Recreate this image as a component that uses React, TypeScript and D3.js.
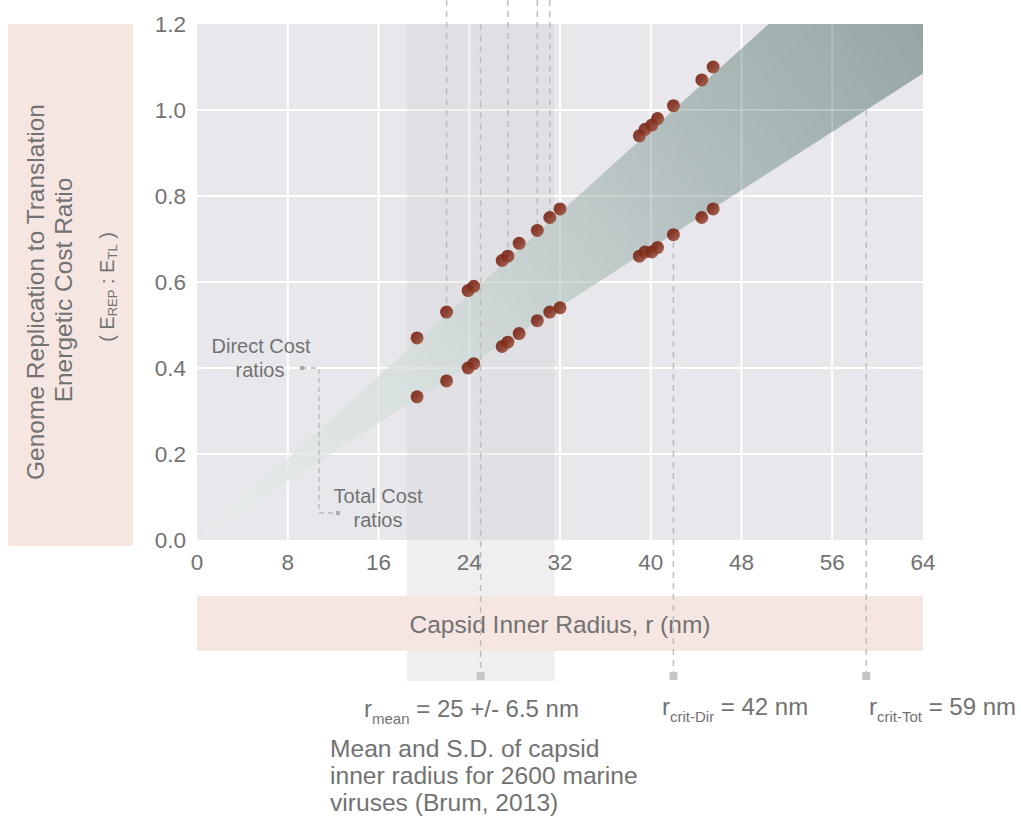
import React from 'react';
import * as d3 from 'd3';

// radius of each virus (nm) and the two cost ratios
const radii = [19.4, 22.0, 23.9, 24.4, 26.9, 27.4, 28.4, 30.0, 31.1, 32.0, 39.0, 39.5, 40.1, 40.6, 42.0, 44.5, 45.5];
const directRatios = [0.47, 0.53, 0.58, 0.59, 0.65, 0.66, 0.69, 0.72, 0.75, 0.77, 0.94, 0.955, 0.965, 0.98, 1.01, 1.07, 1.10];
const totalRatios = [0.333, 0.37, 0.40, 0.41, 0.45, 0.46, 0.48, 0.51, 0.53, 0.54, 0.66, 0.67, 0.67, 0.68, 0.71, 0.75, 0.77];

// the direct / total cost band (edges of the cone)
const bandR = [0, 64];
const bandUpper = [0, 1.524];
const bandLower = [0, 1.085];

// points that have a guide line going up to the top
const guideIdx = [1, 5, 7, 8];

const xTicks = [0, 8, 16, 24, 32, 40, 48, 56, 64];
const yTicks = [0, 0.2, 0.4, 0.6, 0.8, 1.0, 1.2];

const rMean = 25;
const rSD = 6.5;
const rCritDir = 42;
const rCritTot = 59;

const FONT = '"Liberation Sans", Arial, Helvetica, sans-serif';
const TXT = '#727272';

export default function App() {
  const x = d3.scaleLinear().domain([0, 64]).range([197, 923]);
  const y = d3.scaleLinear().domain([0, 1.2]).range([540, 24]);
  const [x0, x1] = x.range();
  const [yb, yt] = y.range();

  const bandData = bandR.map((r, i) => ({ r, hi: bandUpper[i], lo: bandLower[i] }));
  const bandPath = d3.area<any>()
    .x(d => x(d.r))
    .y0(d => y(d.lo))
    .y1(d => y(d.hi))(bandData) as string;

  const dash = '6,5';
  const guideColor = '#bdbdbd';
  const markerY = 676;

  const grid = (stroke: string, op: number) => (
    <g stroke={stroke} strokeOpacity={op} strokeWidth={2}>
      {xTicks.slice(1, -1).map(t => (
        <line key={'gx' + t} x1={x(t)} x2={x(t)} y1={yt} y2={yb} />
      ))}
      {yTicks.slice(1, -1).map(t => (
        <line key={'gy' + t} x1={x0} x2={x1} y1={y(t)} y2={y(t)} />
      ))}
    </g>
  );

  return (
    <svg width={1021} height={821} style={{ position: 'absolute', left: 0, top: 0, background: '#fff' }}
      fontFamily={FONT}>
      <defs>
        <clipPath id="plotClip">
          <rect x={x0} y={yt} width={x1 - x0} height={yb - yt} />
        </clipPath>
        <linearGradient id="bandGrad" gradientUnits="userSpaceOnUse" x1={x0} y1={yb} x2={x1} y2={yt}>
          <stop offset="0" stopColor="#e8ecec" />
          <stop offset="0.3" stopColor="#d8e0df" />
          <stop offset="0.55" stopColor="#c0cbca" />
          <stop offset="0.8" stopColor="#a8b6b6" />
          <stop offset="1" stopColor="#96a6a6" />
        </linearGradient>
        <linearGradient id="dotGrad" x1="0" y1="0" x2="1" y2="1">
          <stop offset="0" stopColor="#72200f" />
          <stop offset="0.5" stopColor="#84301f" />
          <stop offset="1" stopColor="#a4604f" />
        </linearGradient>
      </defs>

      {/* y-axis title box */}
      <rect x={8} y={24} width={125} height={522} fill="#f5e6e2" />
      <g transform="rotate(-90)" fill={TXT} fontSize={24.5} textAnchor="middle" dominantBaseline="central">
        <text x={-292} y={35}>Genome Replication to Translation</text>
        <text x={-290} y={63}>Energetic Cost Ratio</text>
        <text x={-287} y={107} fontSize={20}>
          {'( E'}<tspan fontSize={13} dy={5}>REP</tspan><tspan dy={-5}>{' : E'}</tspan>
          <tspan fontSize={13} dy={5}>TL</tspan><tspan dy={-5}>{' )'}</tspan>
        </text>
      </g>

      {/* plot background */}
      <rect x={x0} y={yt} width={x1 - x0} height={yb - yt} fill="#e8e8ec" />
      {/* S.D. band of capsid radius */}
      <rect x={x(rMean - rSD)} y={yb} width={x(rMean + rSD) - x(rMean - rSD)} height={681 - yb} fill="#efefef" />
      {grid('#ffffff', 1)}
      <rect x={x(rMean - rSD)} y={yt} width={x(rMean + rSD) - x(rMean - rSD)} height={yb - yt}
        fill="#d8d8dc" fillOpacity={0.45} />

      {/* cost ratio cone */}
      <g clipPath="url(#plotClip)">
        <path d={bandPath} fill="url(#bandGrad)" />
        {grid('#ffffff', 0.22)}
      </g>

      {/* x-axis title box */}
      <rect x={x0} y={596} width={x1 - x0} height={55} fill="#f5e6e2" />
      <text x={(x0 + x1) / 2} y={624} fill={TXT} fontSize={24.5} textAnchor="middle" dominantBaseline="central">
        Capsid Inner Radius, r (nm)
      </text>

      {/* guide lines to top */}
      <g stroke={guideColor} strokeWidth={1.5} strokeDasharray={dash} fill="none">
        {guideIdx.map(i => (
          <line key={'g' + i} x1={x(radii[i])} x2={x(radii[i])} y1={0} y2={y(directRatios[i])} />
        ))}
        <line x1={x(rMean)} x2={x(rMean)} y1={yt} y2={markerY} />
        <line x1={x(rCritDir)} x2={x(rCritDir)} y1={y(1.0)} y2={markerY} />
        <line x1={x(rCritTot)} x2={x(rCritTot)} y1={y(1.0)} y2={markerY} />
      </g>
      {[rMean, rCritDir, rCritTot].map(r => (
        <rect key={'m' + r} x={x(r) - 4} y={markerY - 4} width={8} height={8} fill="#c6c6c6" />
      ))}

      {/* data points */}
      <g fill="url(#dotGrad)" fillOpacity={0.9}>
        {radii.map((r, i) => (
          <circle key={'d' + i} cx={x(r)} cy={y(directRatios[i])} r={6.5} />
        ))}
        {radii.map((r, i) => (
          <circle key={'t' + i} cx={x(r)} cy={y(totalRatios[i])} r={6.5} />
        ))}
      </g>

      {/* axis tick labels */}
      <g fill={TXT} fontSize={22.5}>
        {yTicks.map(t => (
          <text key={'yt' + t} x={186} y={y(t)} textAnchor="end" dominantBaseline="central">{d3.format('.1f')(t)}</text>
        ))}
        {xTicks.map(t => (
          <text key={'xt' + t} x={x(t)} y={562} textAnchor="middle" dominantBaseline="central">{t}</text>
        ))}
      </g>

      {/* Direct / Total cost annotation */}
      <g fill={TXT} fontSize={20} textAnchor="middle" dominantBaseline="central">
        <text x={261} y={346}>Direct Cost</text>
        <text x={260} y={370}>ratios</text>
        <text x={378} y={496}>Total Cost</text>
        <text x={378} y={520}>ratios</text>
      </g>
      <path d="M302,368 H319 V513 H338" fill="none" stroke="#b8b8b8" strokeWidth={1.3} strokeDasharray="5,4" />
      <rect x={300} y={366} width={4} height={4} fill="#aaaaaa" />
      <rect x={336} y={511} width={4} height={4} fill="#aaaaaa" />

      {/* bottom annotations */}
      <g fill={TXT} fontSize={24}>
        <text x={364} y={717}>
          r<tspan fontSize={15} dy={7}>mean</tspan><tspan dy={-7}>{' = 25 +/- 6.5 nm'}</tspan>
        </text>
        <text x={662} y={715}>
          r<tspan fontSize={15} dy={7}>crit-Dir</tspan><tspan dy={-7}>{' = 42 nm'}</tspan>
        </text>
        <text x={869} y={715}>
          r<tspan fontSize={15} dy={7}>crit-Tot</tspan><tspan dy={-7}>{' = 59 nm'}</tspan>
        </text>
      </g>
      <g fill={TXT} fontSize={24.6}>
        <text x={330} y={757}>Mean and S.D. of capsid</text>
        <text x={330} y={784}>inner radius for 2600 marine</text>
        <text x={330} y={811}>viruses (Brum, 2013)</text>
      </g>
    </svg>
  );
}
